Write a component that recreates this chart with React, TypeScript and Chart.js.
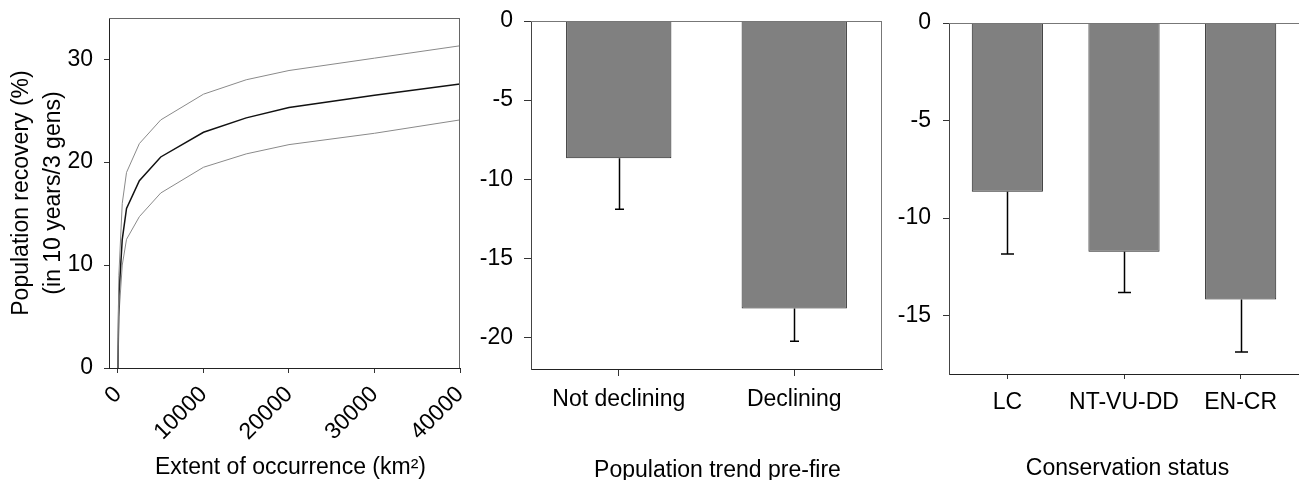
import React, { useEffect, useRef } from 'react';
import { Chart, registerables } from 'chart.js';

Chart.register(...registerables);

const FONT = "'Liberation Sans', Arial, sans-serif";

// Panel 1: population recovery vs extent of occurrence
const eooX = [0, 100, 500, 1000, 2500, 5000, 10000, 15000, 20000, 30000, 40000];
const eooMid = [0, 7, 12.5, 15.5, 18.2, 20.5, 22.9, 24.3, 25.3, 26.5, 27.6];
const eooUpper = [0, 9, 16, 19, 21.8, 24.1, 26.6, 28, 28.9, 30.1, 31.3];
const eooLower = [0, 5, 10, 12.5, 14.7, 17.0, 19.5, 20.8, 21.7, 22.8, 24.1];
const eooXTicks = [0, 10000, 20000, 30000, 40000];
const eooYTicks = [0, 10, 20, 30];

// Panel 2: population trend pre-fire
const trendLabels = ['Not declining', 'Declining'];
const trendMeans = [-8.67, -18.17];
const trendErrLow = [-11.9, -20.25];
const trendYTicks = [0, -5, -10, -15, -20];

// Panel 3: conservation status
const statusLabels = ['LC', 'NT-VU-DD', 'EN-CR'];
const statusMeans = [-8.65, -11.73, -14.18];
const statusErrLow = [-11.85, -13.82, -16.87];
const statusYTicks = [0, -5, -10, -15];

const boxPlugin = {
  id: 'boxPlugin',
  afterDatasetsDraw(chart: any, _args: any, opts: any) {
    const { ctx, chartArea: a } = chart;
    ctx.save();
    ctx.strokeStyle = opts.color || '#777';
    ctx.lineWidth = 1;
    ctx.beginPath();
    ctx.moveTo(a.left, a.top + 0.5);
    ctx.lineTo(a.right, a.top + 0.5);
    if (opts.right !== false) {
      ctx.moveTo(a.right - 0.5, a.top);
      ctx.lineTo(a.right - 0.5, a.bottom);
    }
    ctx.stroke();
    ctx.restore();
  },
};

// x-axis title drawn as text, slightly off-centre as in the original figure
const xTitlePlugin = {
  id: 'xTitlePlugin',
  afterDraw(chart: any, _args: any, opts: any) {
    if (!opts || !opts.text) return;
    const { ctx, chartArea: a, height } = chart;
    ctx.save();
    ctx.font = `23px ${FONT}`;
    ctx.fillStyle = '#000';
    ctx.textAlign = 'center';
    ctx.textBaseline = 'middle';
    ctx.fillText(opts.text, (a.left + a.right) / 2 + opts.dx, height - opts.fromBottom);
    ctx.restore();
  },
};

const errPlugin = {
  id: 'errPlugin',
  afterDatasetsDraw(chart: any, _args: any, opts: any) {
    if (!opts || !opts.low) return;
    const { ctx } = chart;
    const meta = chart.getDatasetMeta(0);
    const ys = chart.scales.y;
    ctx.save();
    ctx.strokeStyle = '#000';
    ctx.lineWidth = 1.5;
    meta.data.forEach((el: any, i: number) => {
      const x = Math.round(el.x) + 0.5;
      const y1 = ys.getPixelForValue(chart.data.datasets[0].data[i]);
      const y2 = ys.getPixelForValue(opts.low[i]);
      ctx.beginPath();
      ctx.moveTo(x, y1);
      ctx.lineTo(x, y2);
      ctx.moveTo(x - opts.cap / 2, y2);
      ctx.lineTo(x + opts.cap / 2, y2);
      ctx.stroke();
    });
    ctx.restore();
  },
};

const tickFont = { family: FONT, size: 23 };

function setTicks(values: number[]) {
  return (scale: any) => {
    scale.ticks = values.map((v) => ({ value: v }));
  };
}

function fixSize(dim: 'width' | 'height', size: number) {
  return (s: any) => {
    s[dim] = size;
    s.paddingTop = 0;
    s.paddingBottom = 0;
    s.paddingLeft = 0;
    s.paddingRight = 0;
  };
}

function makeLineChart(canvas: HTMLCanvasElement) {
  return new Chart(canvas, {
    type: 'line',
    data: {
      datasets: [
        {
          data: eooX.map((x, i) => ({ x, y: eooUpper[i] })),
          borderColor: '#8a8a8a',
          borderWidth: 1,
          pointRadius: 0,
          tension: 0,
          fill: false,
        },
        {
          data: eooX.map((x, i) => ({ x, y: eooMid[i] })),
          borderColor: '#111',
          borderWidth: 1.5,
          pointRadius: 0,
          tension: 0,
          fill: false,
        },
        {
          data: eooX.map((x, i) => ({ x, y: eooLower[i] })),
          borderColor: '#8a8a8a',
          borderWidth: 1,
          pointRadius: 0,
          tension: 0,
          fill: false,
        },
      ],
    },
    options: {
      animation: false,
      responsive: false,
      maintainAspectRatio: false,
      devicePixelRatio: 1,
      layout: { padding: { top: 18, right: 15, left: 0, bottom: 0 } },
      plugins: {
        legend: { display: false },
        tooltip: { enabled: false },
        boxPlugin: { color: '#666' },
        xTitlePlugin: { text: 'Extent of occurrence (km\u00B2)', dx: 6, fromBottom: 12.5 },
      } as any,
      scales: {
        x: {
          type: 'linear',
          min: -1050,
          max: 40000,
          afterBuildTicks: setTicks(eooXTicks),
          afterFit: fixSize('height', 112),
          grid: { display: true, drawOnChartArea: false, drawTicks: true, tickLength: 5, color: '#333' },
          border: { display: true, color: '#222', width: 1 },
          ticks: {
            font: tickFont,
            color: '#000',
            minRotation: 45,
            maxRotation: 45,
            autoSkip: false,
            padding: 8,
            callback: (v: any) => String(v),
          },
        },
        y: {
          type: 'linear',
          min: 0,
          max: 34,
          afterBuildTicks: setTicks(eooYTicks),
          afterFit: fixSize('width', 109),
          grid: { display: true, drawOnChartArea: false, drawTicks: true, tickLength: 5, color: '#333' },
          border: { display: true, color: '#222', width: 1 },
          ticks: { font: tickFont, color: '#000', padding: 11, callback: (v: any) => String(v) },
          title: {
            display: true,
            text: ['Population recovery (%)', '(in 10 years/3 gens)'],
            font: { family: FONT, size: 23, lineHeight: 1.42 },
            color: '#000',
            padding: { top: 5, bottom: 0 },
          },
        },
      },
    } as any,
    plugins: [boxPlugin, xTitlePlugin],
  });
}

function makeBarChart(
  canvas: HTMLCanvasElement,
  labels: string[],
  means: number[],
  low: number[],
  yTicks: number[],
  yMin: number,
  cfg: any
) {
  return new Chart(canvas, {
    type: 'bar',
    data: {
      labels,
      datasets: [
        {
          data: means,
          backgroundColor: '#808080',
          borderColor: '#222',
          borderWidth: 1,
          barPercentage: cfg.barPct,
          categoryPercentage: 1,
        },
      ],
    },
    options: {
      animation: false,
      responsive: false,
      maintainAspectRatio: false,
      devicePixelRatio: 1,
      layout: { padding: { top: cfg.top, right: cfg.right, left: 0, bottom: 0 } },
      plugins: {
        legend: { display: false },
        tooltip: { enabled: false },
        boxPlugin: { color: '#777', right: cfg.boxRight },
        errPlugin: { low, cap: cfg.cap },
        xTitlePlugin: { text: cfg.title, dx: cfg.titleDx, fromBottom: cfg.titleFromBottom },
      } as any,
      scales: {
        x: {
          type: 'category',
          afterFit: fixSize('height', cfg.xH),
          grid: { display: true, drawOnChartArea: false, drawTicks: true, tickLength: cfg.xTick, color: '#333', offset: false },
          border: { display: true, color: '#222', width: 1 },
          ticks: { font: tickFont, color: '#000', padding: cfg.xPad, maxRotation: 0, autoSkip: false },
        },
        y: {
          type: 'linear',
          min: yMin,
          max: 0,
          afterBuildTicks: setTicks(yTicks),
          afterFit: fixSize('width', cfg.yW),
          grid: { display: true, drawOnChartArea: false, drawTicks: true, tickLength: cfg.yTick, color: '#333' },
          border: { display: true, color: '#444', width: 1 },
          ticks: { font: tickFont, color: '#000', padding: cfg.yPad, callback: (v: any) => String(v) },
        },
      },
    } as any,
    plugins: [errPlugin, boxPlugin, xTitlePlugin],
  });
}

export default function App() {
  const c1 = useRef<HTMLCanvasElement>(null);
  const c2 = useRef<HTMLCanvasElement>(null);
  const c3 = useRef<HTMLCanvasElement>(null);

  useEffect(() => {
    const charts: Chart[] = [];
    if (c1.current) charts.push(makeLineChart(c1.current));
    if (c2.current)
      charts.push(
        makeBarChart(c2.current, trendLabels, trendMeans, trendErrLow, trendYTicks, -22, {
          top: 21,
          right: 8,
          yW: 61,
          xH: 111,
          xTick: 7,
          xPad: 10,
          yTick: 7,
          yPad: 11,
          barPct: 0.6,
          cap: 9,
          title: 'Population trend pre-fire',
          titleDx: 11,
          titleFromBottom: 9,
          boxRight: true,
        })
      );
    if (c3.current)
      charts.push(
        makeBarChart(c3.current, statusLabels, statusMeans, statusErrLow, statusYTicks, -18, {
          top: 23,
          right: 0,
          yW: 59,
          xH: 106,
          xTick: 5,
          xPad: 10,
          yTick: 6,
          yPad: 12,
          barPct: 0.61,
          cap: 13,
          title: 'Conservation status',
          titleDx: 3.5,
          titleFromBottom: 11,
          boxRight: false,
        })
      );
    return () => charts.forEach((c) => c.destroy());
  }, []);

  const base: React.CSSProperties = { position: 'absolute', top: 0, display: 'block' };
  return (
    <div style={{ position: 'absolute', left: 0, top: 0, width: 1299, height: 480, overflow: 'hidden', background: '#fff' }}>
      <canvas ref={c1} width={475} height={480} style={{ ...base, left: 0, width: 475, height: 480 }} />
      <canvas ref={c2} width={420} height={480} style={{ ...base, left: 470, width: 420, height: 480 }} />
      <canvas ref={c3} width={409} height={480} style={{ ...base, left: 890, width: 409, height: 480 }} />
    </div>
  );
}
